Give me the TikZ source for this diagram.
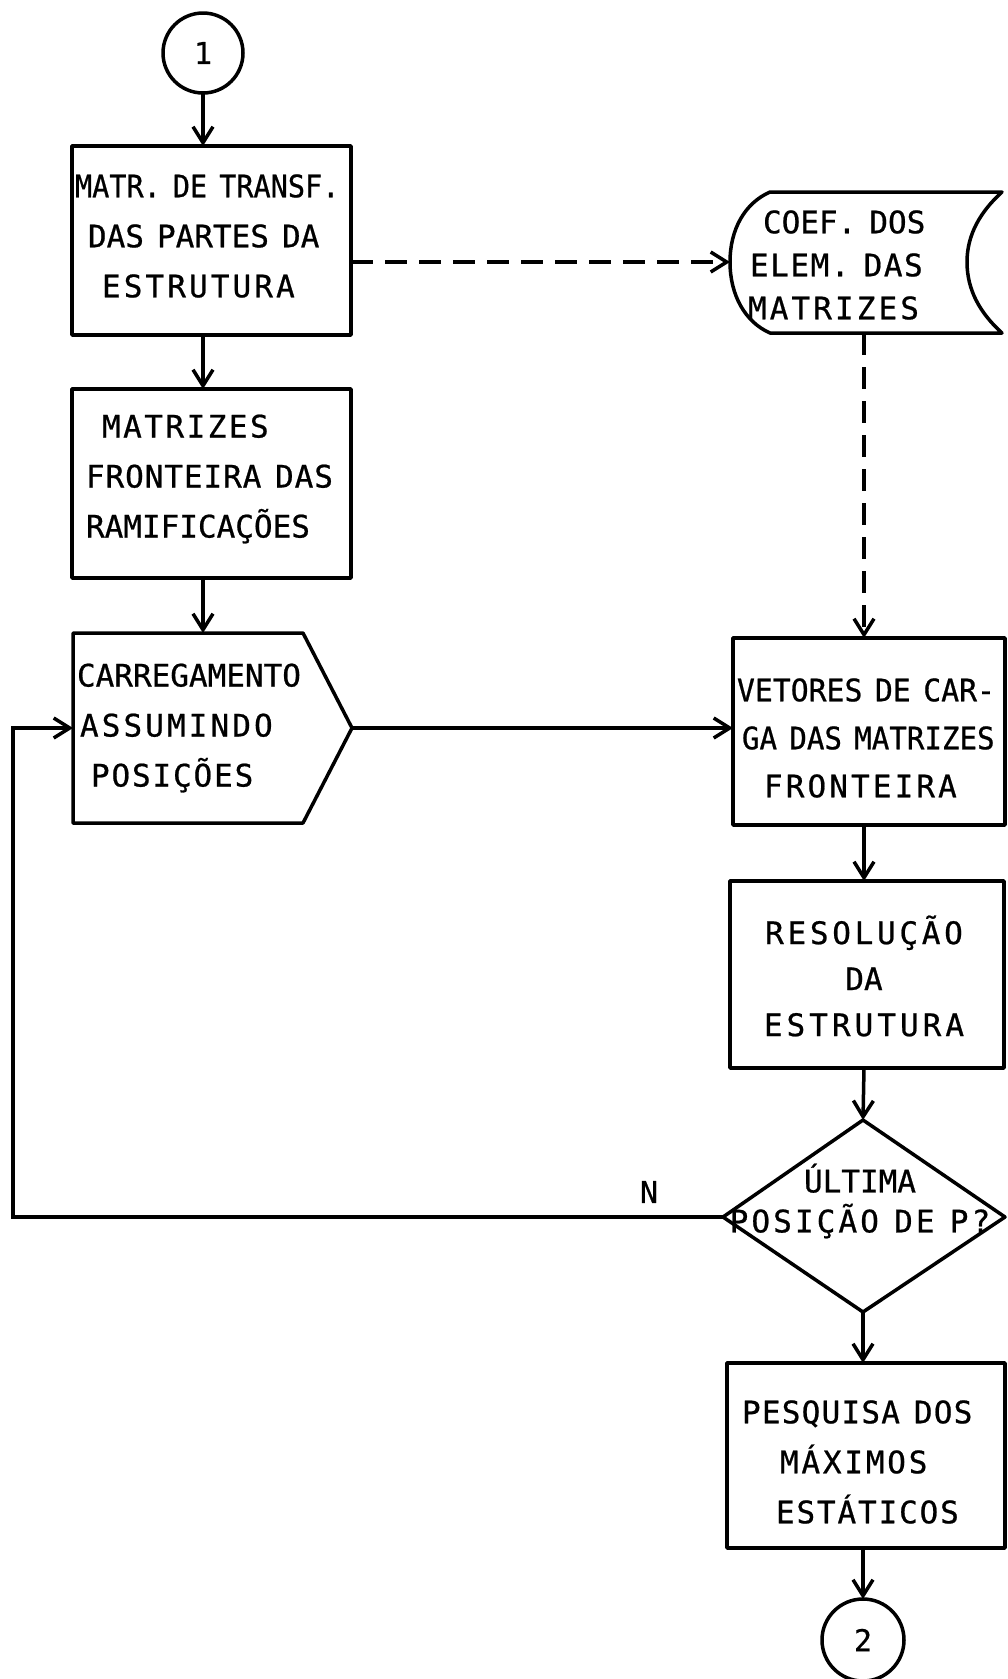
\documentclass[tikz,border=0pt]{standalone}
\usepackage{fontspec}
\usepackage{graphicx}
\newfontfamily\lettering[WordSpace=0.7,FakeBold=0.7]{DejaVu Sans Mono}
\newcommand\LS[2]{{\addfontfeature{LetterSpace=#1}#2}}
\newcommand\HS[2]{\scalebox{#1}[1]{#2}}
\usetikzlibrary{arrows.meta}
\begin{document}
\begin{tikzpicture}[x=1pt,y=-1pt,
  every node/.style={inner sep=0pt,outer sep=0pt},
  shapeline/.style={line width=3.5pt,line join=round},
  boxnode/.style={draw,shapeline,rectangle},
  circnode/.style={draw,shapeline,circle,minimum size=80pt,font=\lettering\fontsize{30}{36}\selectfont},
  txt/.style={font=\lettering\fontsize{31}{50}\selectfont,align=left,anchor=west},
  flow/.style={line width=3.5pt,-{Straight Barb[length=16pt,width=20pt,line width=3.5pt]}},
  dflow/.style={flow,dash pattern=on 22pt off 12pt}
]
\useasboundingbox (0,0) rectangle (1007,1679);
\fill[white] (0,0) rectangle (1007,1679);

% connector circles
\node[circnode] (c1) at (203,53) {1};
\node[circnode,minimum size=82pt] (c2) at (863,1640) {2};

% rectangles
\node[boxnode,minimum width=279pt,minimum height=189pt] (box1) at (211.5,240.5) {};
\node[boxnode,minimum width=279pt,minimum height=189pt] (box2) at (211.5,483.5) {};
\node[boxnode,minimum width=272pt,minimum height=187pt] (box3) at (869,731.5) {};
\node[boxnode,minimum width=274pt,minimum height=187pt] (box4) at (867,974.5) {};
\node[boxnode,minimum width=278pt,minimum height=185pt] (box5) at (866,1455.5) {};

% loading shape (pentagon)
\draw[shapeline] (73,633) -- (303,633) -- (352,728) -- (303,823) -- (73,823) -- cycle;
\coordinate (loadE) at (352,728);
\coordinate (loadW) at (73,728);
\coordinate (loadN) at (203,633);

% stored data shape
\draw[shapeline] (770,192) -- (1002,192)
  .. controls (980,212) and (967,235) .. (967,262)
  .. controls (967,290) and (980,313) .. (1002,333)
  -- (770,333)
  .. controls (745,322) and (730,295) .. (730,262)
  .. controls (730,229) and (745,203) .. (770,192) -- cycle;
\coordinate (storeW) at (730,262);
\coordinate (storeS) at (864,333);

% decision diamond
\draw[shapeline] (863,1120) -- (1005,1217) -- (863,1312) -- (723,1217) -- cycle;
\coordinate (decN) at (863,1120);
\coordinate (decS) at (863,1312);
\coordinate (decW) at (723,1217);
\coordinate (loopB) at (13,1217);
\coordinate (loopT) at (13,728);

% texts
\node[txt] (t1) at (75,236) {\HS{0.92}{MATR. DE TRANSF.}\\\hspace*{13pt}DAS PARTES DA\\\hspace*{27pt}\LS{10}{ESTRUTURA}};
\node[txt] (t2) at (86,479) {\hspace*{16pt}\LS{8}{MATRIZES}\\\LS{3}{FRONTEIRA DAS}\\RAMIFICAÇÕES};
\node[txt] (t3) at (77,728) {CARREGAMENTO\\\hspace*{3pt}\LS{10}{ASSUMINDO}\\\hspace*{14pt}\LS{6}{POSIÇÕES}};
\node[txt,font=\lettering\fontsize{31}{43}\selectfont] (t4) at (748,265) {\hspace*{15pt}COEF. DOS\\\hspace*{2pt}\LS{5}{ELEM. DAS}\\\LS{10}{MATRIZES}};
\node[txt,font=\lettering\fontsize{31}{48}\selectfont] (t5) at (737,738) {\HS{0.96}{VETORES DE CAR-}\\\hspace*{5pt}\HS{0.94}{GA DAS MATRIZES}\\\hspace*{27pt}\LS{10}{FRONTEIRA}};
\node[txt,align=center,anchor=center,font=\lettering\fontsize{31}{46}\selectfont] (t6) at (864,976) {\LS{12}{RESOLUÇÃO}\\DA\\\LS{13}{ESTRUTURA}};
\node[txt,align=center,anchor=center,font=\lettering\fontsize{31}{40}\selectfont] (t7) at (860,1201) {ÚLTIMA\\\LS{10}{POSIÇÃO DE P?}};
\node[txt] (t8) at (742,1462) {\LS{4}{PESQUISA DOS}\\\hspace*{38pt}\LS{9}{MÁXIMOS}\\\hspace*{34pt}\LS{6}{ESTÁTICOS}};
\node[font=\lettering\fontsize{30}{36}\selectfont] (nlab) at (649,1192) {N};

% connectors
\draw[flow] (c1) -- (c1.south |- box1.north);
\draw[flow] (box1.south -| c1.south) -- (box2.north -| c1.south);
\draw[flow] (box2.south -| c1.south) -- (loadN);
\draw[dflow] (box1.east |- storeW) -- (storeW);
\draw[dflow] (storeS) -- (storeS |- box3.north);
\draw[flow] (loadE) -- (box3.west |- loadE);
\draw[flow] (box3.south -| storeS) -- (box4.north -| storeS);
\draw[flow] (box4.south -| storeS) -- (decN);
\draw[flow] (decS) -- (box5.north -| decS);
\draw[flow] (box5.south -| decS) -- (c2);
\draw[flow,line join=miter] (decW) -- (loopB) -- (loopT) -- (loadW);
\end{tikzpicture}
\end{document}
